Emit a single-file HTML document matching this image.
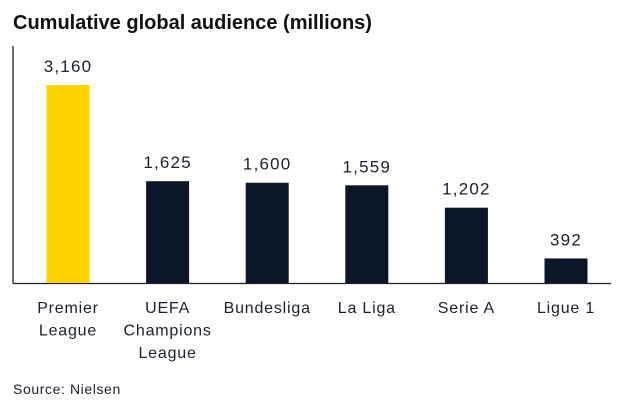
<!DOCTYPE html>
<html><head><meta charset="utf-8"><style>
body{margin:0;background:#fff;width:623px;height:414px;overflow:hidden;font-family:"Liberation Sans",sans-serif;}
</style></head><body>
<svg width="623" height="414">
<text x="13" y="29" font-size="20" font-weight="bold" fill="#111">Cumulative global audience (millions)</text>
<line x1="13" y1="46" x2="13" y2="283.5" stroke="#1a1f2e" stroke-width="1.3"/>
<line x1="13" y1="283.5" x2="611" y2="283.5" stroke="#1a1f2e" stroke-width="1.3"/>
<g id="bars"></g>
<text x="13" y="394" font-size="14" letter-spacing="0.6" fill="#1a1f2e">Source: Nielsen</text>
</svg>
<script>
const categories=[["Premier","League"],["UEFA","Champions","League"],["Bundesliga"],["La Liga"],["Serie A"],["Ligue 1"]];
const values=[3160,1625,1600,1559,1202,392];
const valueLabels=["3,160","1,625","1,600","1,559","1,202","392"];
const colors=["#ffd200","#0b1628","#0b1628","#0b1628","#0b1628","#0b1628"];
const base=283,scale=198/3160,x0=68,step=99.6,bw=43;
const y=v=>base-v*scale, xc=i=>x0+i*step;
const g=document.getElementById('bars');
const ns="http://www.w3.org/2000/svg";
values.forEach((v,i)=>{
 const r=document.createElementNS(ns,'rect');
 r.setAttribute('x',xc(i)-bw/2);r.setAttribute('y',y(v));r.setAttribute('width',bw);r.setAttribute('height',base-y(v));r.setAttribute('fill',colors[i]);
 
 
 g.appendChild(r);
 const t=document.createElementNS(ns,'text');
 t.setAttribute('x',xc(i));t.setAttribute('y',y(v)-13);t.setAttribute('text-anchor','middle');t.setAttribute('font-size','17');t.setAttribute('letter-spacing','1.2');t.setAttribute('fill','#1a1f2e');
 t.textContent=valueLabels[i];
 
 
 g.appendChild(t);
 categories[i].forEach((line,j)=>{
  const c=document.createElementNS(ns,'text');
  c.setAttribute('x',xc(i));c.setAttribute('y',313+j*22.5);c.setAttribute('text-anchor','middle');c.setAttribute('font-size','16');c.setAttribute('letter-spacing','0.8');c.setAttribute('fill','#1a1f2e');
  c.textContent=line;
  
  
  g.appendChild(c);
 });
});
</script>
</body></html>
